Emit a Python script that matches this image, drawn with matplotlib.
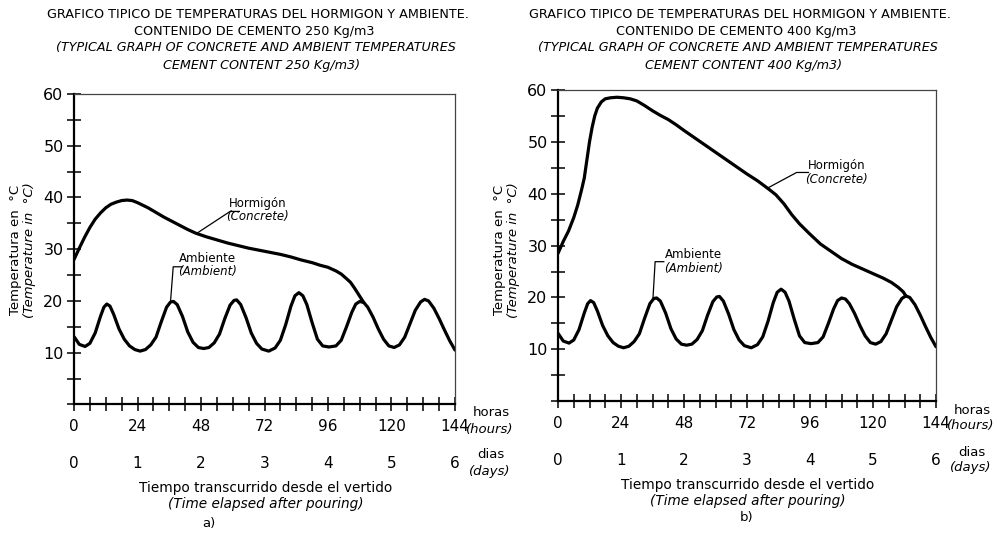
import numpy as np
import matplotlib
matplotlib.use("Agg")
import matplotlib.pyplot as plt
from matplotlib.ticker import MultipleLocator

plt.rcParams['font.family'] = ['DejaVu Sans']

# Ambient temperature (same daily cycle in both graphs)
amb_h = [0, 2, 4.2, 6, 8, 10, 11.3, 12.4, 13.6, 15, 17, 19, 21, 23, 25, 27, 29, 31, 33, 35,
         36.5, 37.6, 39, 41, 43, 45, 47, 49, 51, 53, 55, 57, 59, 60.5, 61.5, 63, 65, 67, 69, 71,
         73.6, 76, 78, 80, 82, 83.5, 85, 86.5, 88, 90, 92, 94, 96.4, 99, 101, 103, 105, 106.5,
         108, 109.5, 111, 113, 115, 117, 119, 121, 123, 125, 127, 129, 131, 132.5, 134, 136,
         138, 140, 142, 144]
amb_t = [13.1, 11.6, 11.2, 11.8, 13.8, 17.0, 18.8, 19.4, 19.0, 17.4, 14.6, 12.6, 11.3, 10.6,
         10.3, 10.6, 11.5, 13.0, 16.0, 18.8, 19.8, 19.9, 19.3, 17.0, 14.0, 12.0, 11.0, 10.8,
         11.0, 11.9, 13.6, 16.6, 19.2, 20.1, 20.2, 19.3, 16.8, 13.8, 11.8, 10.7, 10.3, 10.9,
         12.4, 15.4, 19.0, 21.0, 21.6, 21.0, 19.3, 15.8, 12.6, 11.3, 11.1, 11.3, 12.4, 15.0,
         17.8, 19.4, 19.9, 19.7, 18.8, 16.9, 14.6, 12.6, 11.3, 11.0, 11.5, 13.0, 15.6, 18.2,
         19.8, 20.3, 20.0, 18.6, 16.6, 14.4, 12.3, 10.5]

# Concrete, 250 kg/m3
c250_h = [0, 2, 4, 6, 8, 10, 12, 14, 16, 18, 20, 22, 24, 26, 28, 31, 34, 37, 40, 43, 46, 50,
          54, 58, 62, 66, 70, 74, 78, 82, 86, 90, 93, 96, 99, 101, 103, 104.5, 106, 108, 109.5]
c250_t = [28.0, 30.2, 32.3, 34.2, 35.8, 37.0, 38.0, 38.7, 39.1, 39.4, 39.5, 39.4, 39.0, 38.5,
          38.0, 37.1, 36.2, 35.4, 34.6, 33.8, 33.1, 32.4, 31.8, 31.2, 30.7, 30.2, 29.8, 29.4,
          29.0, 28.5, 27.9, 27.4, 26.9, 26.5, 25.8, 25.2, 24.3, 23.6, 22.5, 20.9, 19.7]

# Concrete, 400 kg/m3
c400_h = [0, 2, 4, 6, 7.5, 9, 10, 11, 12, 13, 14, 15, 16.5, 18, 20, 22.5, 25, 27.5, 30, 33,
          36, 39, 42, 45, 48, 52, 56, 60, 64, 68, 72, 76, 80, 83, 86, 89, 92, 96, 100, 104,
          108, 112, 116, 120, 124, 127, 129.5, 131.5, 132.5]
c400_t = [28.5, 30.8, 32.8, 35.4, 37.8, 40.8, 43.0, 46.5, 50.0, 52.8, 55.0, 56.5, 57.7, 58.3,
          58.5, 58.6, 58.5, 58.3, 57.9, 57.0, 56.0, 55.1, 54.3, 53.3, 52.2, 50.8, 49.4, 48.0,
          46.6, 45.2, 43.8, 42.5, 41.0, 39.8, 38.1, 36.0, 34.2, 32.2, 30.3, 28.9, 27.5, 26.4,
          25.5, 24.6, 23.7, 22.9, 22.0, 21.1, 20.3]

hour_ticks = [0, 24, 48, 72, 96, 120, 144]
day_labels = ['0', '1', '2', '3', '4', '5', '6']

W, H = 998, 535
fig = plt.figure(figsize=(W / 100, H / 100), dpi=100)


def fx(px):
    return px / W


def fy(py):
    return 1 - py / H


def panel(rect, conc_h, conc_t, cx, cement, letter, ann_c, ann_a, dy):
    ax = fig.add_axes(rect)
    ax.plot(amb_h, amb_t, color='black', lw=2.3, solid_capstyle='round')
    ax.plot(conc_h, conc_t, color='black', lw=2.3, solid_capstyle='round')
    ax.set_xlim(0, 144)
    ax.set_ylim(0, 60)
    ax.xaxis.set_major_locator(MultipleLocator(24))
    ax.xaxis.set_minor_locator(MultipleLocator(6))
    ax.set_yticks([10, 20, 30, 40, 50, 60])
    ax.yaxis.set_minor_locator(MultipleLocator(5))
    ax.tick_params(which='both', direction='inout', length=10, width=1.1)
    ax.tick_params(axis='y', labelsize=11.5, pad=2.5)
    ax.tick_params(axis='x', labelsize=11, pad=5.5)
    for s in ['left', 'bottom']:
        ax.spines[s].set_linewidth(1.6)
    for s in ['top', 'right']:
        ax.spines[s].set_linewidth(0.9)
        ax.spines[s].set_color('#444444')

    # days row
    for h, d in zip(hour_ticks, day_labels):
        ax.text(h, -0.19, d, transform=ax.get_xaxis_transform(), ha='center',
                va='center', fontsize=11)

    # leader lines and labels
    (x0, y0), (x1, y1), (x2, y2), (tx, ty) = ann_c
    ax.plot([x0, x1, x2], [y0, y1, y2], color='black', lw=0.9)
    ax.text(tx, ty + 1.3, 'Hormigón', ha='center', va='center', fontsize=8.5)
    ax.text(tx, ty - 1.3, '(Concrete)', ha='center', va='center', fontsize=8.5,
            style='italic')
    (x0, y0), (x1, y1), (x2, y2), (tx, ty) = ann_a
    ax.plot([x0, x1, x2], [y0, y1, y2], color='black', lw=0.9)
    ax.text(tx, ty + 1.3, 'Ambiente', ha='center', va='center', fontsize=8.5)
    ax.text(tx, ty - 1.3, '(Ambient)', ha='center', va='center', fontsize=8.5,
            style='italic')

    # titles
    fig.text(fx(cx), fy(15), 'GRAFICO TIPICO DE TEMPERATURAS DEL HORMIGON Y AMBIENTE.',
             ha='center', va='center', fontsize=9.2)
    fig.text(fx(cx - 4), fy(31), 'CONTENIDO DE CEMENTO %d Kg/m3' % cement,
             ha='center', va='center', fontsize=9.2)
    fig.text(fx(cx - 2), fy(48), '(TYPICAL GRAPH OF CONCRETE AND AMBIENT TEMPERATURES',
             ha='center', va='center', fontsize=9.2, style='italic')
    fig.text(fx(cx + 4), fy(65), 'CEMENT CONTENT %d Kg/m3)' % cement,
             ha='center', va='center', fontsize=9.2, style='italic')

    # y label (two lines)
    left = rect[0] * W
    fig.text(fx(left - 58), fy(250), 'Temperatura en  °C', rotation=90,
             ha='center', va='center', fontsize=9.5)
    fig.text(fx(left - 44), fy(250), '(Temperature in  °C)', rotation=90,
             ha='center', va='center', fontsize=9.5, style='italic')

    # unit labels on the right
    right = (rect[0] + rect[2]) * W
    fig.text(fx(right + 36), fy(413 + dy), 'horas', ha='center', va='center', fontsize=9.5)
    fig.text(fx(right + 35), fy(429 + dy), '(hours)', ha='center', va='center',
             fontsize=9.5, style='italic')
    fig.text(fx(right + 36), fy(455 + dy), 'dias', ha='center', va='center', fontsize=9.5)
    fig.text(fx(right + 35), fy(471 + dy), '(days)', ha='center', va='center',
             fontsize=9.5, style='italic')

    # x label
    mid = (rect[0] + rect[2] / 2) * W
    fig.text(fx(mid + 1), fy(488 + dy), 'Tiempo transcurrido desde el vertido',
             ha='center', va='center', fontsize=9.8)
    fig.text(fx(mid + 1), fy(504 + dy), '(Time elapsed after pouring)',
             ha='center', va='center', fontsize=9.8, style='italic')
    fig.text(fx(mid - 56 if letter == 'a)' else mid), fy(523 + dy * 2), letter,
             ha='center', va='center', fontsize=9.5)
    return ax


# left panel: 250 kg/m3
panel([74 / W, 1 - 404.4 / H, 381 / W, 310.4 / H], c250_h, c250_t, 258, 250, 'a)',
      [(46.5, 33.1), (59, 37.3), (62.5, 37.3), (69.5, 37.6)],
      [(36.5, 20.0), (37.5, 26.6), (41, 26.6), (50.5, 26.9)], 0)

# right panel: 400 kg/m3
panel([558 / W, 1 - 401.2 / H, 378 / W, 311.2 / H], c400_h, c400_t, 740, 400, 'b)',
      [(79.5, 41.0), (90.9, 44.1), (95.4, 44.1), (106, 44.1)],
      [(36.2, 20.0), (37.0, 26.9), (40.3, 26.9), (51.5, 26.9)], -3)

fig.savefig('out.png', dpi=100)
